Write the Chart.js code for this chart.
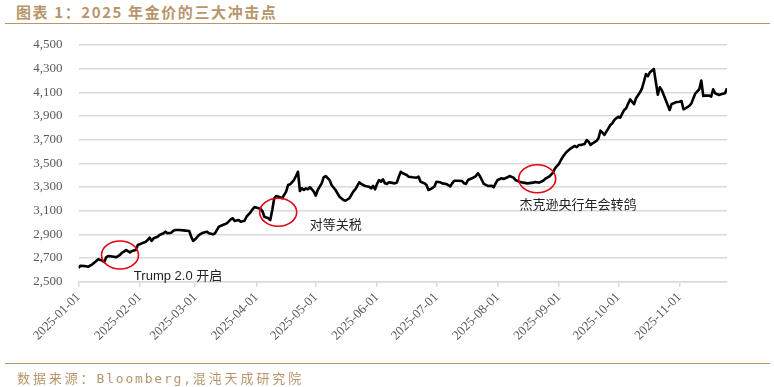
<!DOCTYPE html>
<html>
<head>
<meta charset="utf-8">
<script src="https://cdn.jsdelivr.net/npm/chart.js@4.4.1/dist/chart.umd.min.js"></script>
<style>
  body { margin: 0; width: 774px; height: 387px; background: #fff; position: relative; overflow: hidden; }
  #chartTitle { position: absolute; left: 16px; top: 1px; font: bold 15px "Noto Sans CJK SC", sans-serif; letter-spacing: 1.6px; color: #b8956a; white-space: nowrap; }
  .rule { position: absolute; left: 5px; width: 765px; height: 0; border-top: 1.5px solid #b8956a; }
  #chartSource { position: absolute; left: 17px; top: 368px; font: 13px "DejaVu Sans Mono", "Noto Sans CJK SC", monospace; letter-spacing: 2.9px; color: #b8956a; white-space: nowrap; }
  #chartSource span { letter-spacing: 1.8px; }
  canvas { position: absolute; left: 0; top: 0; }
</style>
</head>
<body>
<div id="chartTitle">图表 1：2025 年金价的三大冲击点</div>
<div class="rule" style="top:23px"></div>
<canvas id="goldChart" width="774" height="387"></canvas>
<div class="rule" style="top:363px"></div>
<div id="chartSource">数据来源：<span>Bloomberg,</span>混沌天成研究院</div>
<script>
// spot gold
const dates = [
  '2025-01-01','2025-01-02','2025-01-04','2025-01-06','2025-01-08','2025-01-10','2025-01-11','2025-01-13','2025-01-14','2025-01-15',
  '2025-01-16','2025-01-19','2025-01-20','2025-01-22','2025-01-23','2025-01-24','2025-01-25','2025-01-26','2025-01-27','2025-01-28',
  '2025-01-30','2025-01-31','2025-02-02','2025-02-04','2025-02-05','2025-02-06','2025-02-07','2025-02-08','2025-02-10','2025-02-11',
  '2025-02-13','2025-02-14','2025-02-15','2025-02-17','2025-02-18','2025-02-19','2025-02-21','2025-02-23','2025-02-26','2025-02-27',
  '2025-02-28','2025-03-01','2025-03-03','2025-03-05','2025-03-07','2025-03-08','2025-03-10','2025-03-11','2025-03-13','2025-03-15',
  '2025-03-17','2025-03-19','2025-03-20','2025-03-21','2025-03-23','2025-03-24','2025-03-26','2025-03-27','2025-03-29','2025-03-30',
  '2025-03-31','2025-04-03','2025-04-04','2025-04-05','2025-04-07','2025-04-08','2025-04-09','2025-04-10','2025-04-11','2025-04-13',
  '2025-04-14','2025-04-16','2025-04-17','2025-04-18','2025-04-20','2025-04-21','2025-04-22','2025-04-23','2025-04-24','2025-04-25',
  '2025-04-26','2025-04-27','2025-04-28','2025-04-29','2025-04-30','2025-05-01','2025-05-02','2025-05-04','2025-05-05','2025-05-06',
  '2025-05-08','2025-05-09','2025-05-11','2025-05-13','2025-05-15','2025-05-16','2025-05-18','2025-05-20','2025-05-21','2025-05-23',
  '2025-05-24','2025-05-25','2025-05-26','2025-05-28','2025-05-29','2025-05-30','2025-05-31','2025-06-01','2025-06-02','2025-06-03',
  '2025-06-04','2025-06-05','2025-06-06','2025-06-07','2025-06-08','2025-06-10','2025-06-11','2025-06-12','2025-06-13','2025-06-14',
  '2025-06-16','2025-06-17','2025-06-19','2025-06-21','2025-06-22','2025-06-23','2025-06-25','2025-06-26','2025-06-27','2025-06-28',
  '2025-06-30','2025-07-01','2025-07-03','2025-07-04','2025-07-06','2025-07-08','2025-07-09','2025-07-10','2025-07-12','2025-07-14',
  '2025-07-15','2025-07-16','2025-07-17','2025-07-19','2025-07-21','2025-07-22','2025-07-23','2025-07-24','2025-07-25','2025-07-27',
  '2025-07-29','2025-07-30','2025-07-31','2025-08-01','2025-08-03','2025-08-04','2025-08-06','2025-08-07','2025-08-09','2025-08-10',
  '2025-08-12','2025-08-14','2025-08-16','2025-08-19','2025-08-20','2025-08-22','2025-08-24','2025-08-25','2025-08-27','2025-08-29',
  '2025-08-30','2025-09-01','2025-09-02','2025-09-03','2025-09-04','2025-09-05','2025-09-07','2025-09-09','2025-09-10','2025-09-11',
  '2025-09-12','2025-09-14','2025-09-15','2025-09-16','2025-09-17','2025-09-18','2025-09-20','2025-09-21','2025-09-22','2025-09-23',
  '2025-09-24','2025-09-26','2025-09-27','2025-09-28','2025-09-29','2025-09-30','2025-10-01','2025-10-02','2025-10-03','2025-10-04',
  '2025-10-05','2025-10-06','2025-10-07','2025-10-09','2025-10-10','2025-10-12','2025-10-13','2025-10-14','2025-10-15','2025-10-16',
  '2025-10-17','2025-10-18','2025-10-19','2025-10-21','2025-10-22','2025-10-23','2025-10-24','2025-10-25','2025-10-26','2025-10-27',
  '2025-10-28','2025-10-29','2025-10-30','2025-11-01','2025-11-02','2025-11-03','2025-11-04','2025-11-06','2025-11-07','2025-11-08',
  '2025-11-09','2025-11-11','2025-11-12','2025-11-13','2025-11-14','2025-11-16','2025-11-17','2025-11-18','2025-11-19','2025-11-21',
  '2025-11-22','2025-11-24','2025-11-25'
];
const prices = [
  2618,2635,2633,2627,2647,2675,2689,2678,2666,2706,
  2717,2711,2706,2726,2745,2754,2768,2759,2748,2759,
  2768,2810,2824,2838,2852,2872,2844,2867,2880,2895,
  2909,2923,2909,2914,2931,2937,2937,2934,2928,2880,
  2844,2858,2895,2914,2923,2909,2900,2909,2965,2979,
  2993,3027,3036,3013,3021,3007,3015,3049,3086,3112,
  3131,3117,3097,3049,3036,3021,3106,3205,3224,3213,
  3205,3261,3317,3323,3359,3393,3429,3266,3289,3275,
  3289,3281,3298,3281,3261,3227,3275,3331,3382,3393,
  3359,3317,3275,3218,3190,3184,3205,3261,3281,3340,
  3326,3317,3309,3303,3289,3309,3281,3326,3359,3345,
  3365,3331,3326,3340,3337,3331,3337,3387,3429,3416,
  3402,3387,3382,3379,3387,3345,3331,3317,3275,3281,
  3303,3345,3340,3331,3326,3305,3331,3353,3353,3351,
  3331,3326,3359,3374,3393,3416,3393,3359,3326,3309,
  3311,3298,3331,3359,3374,3368,3382,3393,3379,3359,
  3345,3337,3331,3337,3342,3337,3353,3368,3387,3421,
  3458,3495,3528,3556,3579,3599,3627,3647,3636,3655,
  3655,3664,3697,3683,3655,3669,3689,3712,3776,3759,
  3740,3796,3824,3838,3866,3881,3894,3886,3920,3951,
  3965,4005,4040,4000,4050,4100,4134,4190,4255,4236,
  4270,4283,4297,4080,4143,4120,4078,4035,3993,3951,
  4002,4007,4016,4021,4027,3957,3965,3987,4007,4050,
  4092,4126,4199,4069,4072,4072,4063,4126,4092,4078,
  4083,4092,4134
];
const monthTicks = ['2025-01-01','2025-02-01','2025-03-01','2025-04-01','2025-05-01','2025-06-01',
  '2025-07-01','2025-08-01','2025-09-01','2025-10-01','2025-11-01'];
const yMin = 2500, yMax = 4500, yStep = 200;

// the three events: circle centre and where the caption starts
const noteTexts = ['Trump 2.0 开启', '对等关税', '杰克逊央行年会转鸽'];
const noteDates = ['2025-01-22', '2025-04-12', '2025-08-21'];
const noteValues = [2726, 3087, 3370];
const noteTextDates = ['2025-01-29', '2025-04-28', '2025-08-12'];
const noteTextValues = [2548, 2975, 3148];

const DAY = 86400000;
const t0 = Date.parse(dates[0]);
const toDay = s => Math.round((Date.parse(s) - t0) / DAY);
const tickDays = monthTicks.map(toDay);
const points = dates.map((d, i) => ({ x: toDay(d), y: prices[i] }));

const notesPlugin = {
  id: 'notes',
  afterDatasetsDraw(chart) {
    const ctx = chart.ctx, xs = chart.scales.x, ys = chart.scales.y;
    ctx.save();
    noteTexts.forEach((txt, i) => {
      const cx = xs.getPixelForValue(toDay(noteDates[i]));
      const cy = ys.getPixelForValue(noteValues[i]);
      ctx.beginPath();
      ctx.ellipse(cx, cy, 18.5, 14, 0, 0, Math.PI * 2);
      ctx.strokeStyle = '#e60012';
      ctx.lineWidth = 1.6;
      ctx.stroke();
      ctx.fillStyle = '#222';
      ctx.font = '13px "Liberation Sans", "Noto Sans CJK SC", sans-serif';
      ctx.textAlign = 'left';
      ctx.textBaseline = 'middle';
      ctx.fillText(txt, xs.getPixelForValue(toDay(noteTextDates[i])), ys.getPixelForValue(noteTextValues[i]));
    });
    ctx.restore();
  }
};

const axisFont = { family: '"Liberation Serif", "Times New Roman", serif', size: 13 };

new Chart(document.getElementById('goldChart').getContext('2d'), {
  type: 'line',
  data: {
    datasets: [{
      data: points,
      borderColor: '#000',
      borderWidth: 2.6,
      pointRadius: 0,
      tension: 0,
      borderJoinStyle: 'round'
    }]
  },
  options: {
    responsive: false,
    animation: false,
    layout: { padding: { top: 45, right: 47, bottom: 0, left: 0 } },
    plugins: { legend: { display: false }, tooltip: { enabled: false } },
    scales: {
      x: {
        type: 'linear',
        min: 0,
        max: points[points.length - 1].x,
        afterBuildTicks: s => { s.ticks = tickDays.map(v => ({ value: v })); },
        afterFit: s => { s.height = 105.3; },
        ticks: {
          autoSkip: false,
          minRotation: 45,
          maxRotation: 45,
          padding: 3,
          color: '#595959',
          font: axisFont,
          callback: v => monthTicks[tickDays.indexOf(v)]
        },
        grid: { display: true, drawOnChartArea: false, drawTicks: true, tickLength: 5, color: '#d9d9d9', lineWidth: 1.5 },
        border: { display: true, color: '#d9d9d9', width: 1.5 }
      },
      y: {
        min: yMin,
        max: yMax,
        afterFit: s => { s.width = 78.5; },
        ticks: {
          stepSize: yStep,
          padding: 16,
          color: '#595959',
          font: axisFont,
          callback: v => v.toLocaleString('en-US')
        },
        grid: { color: '#d9d9d9', lineWidth: 1.5, drawTicks: false },
        border: { display: false }
      }
    }
  },
  plugins: [notesPlugin]
});
</script>
</body>
</html>
